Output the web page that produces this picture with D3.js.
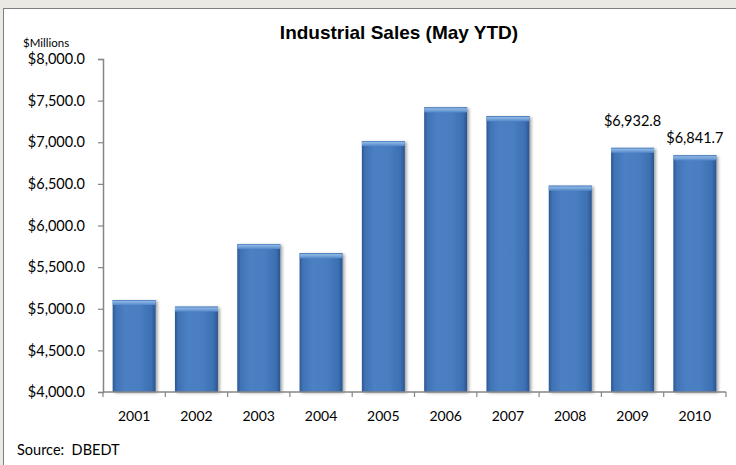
<!DOCTYPE html>
<html>
<head>
<meta charset="utf-8">
<script src="https://cdn.jsdelivr.net/npm/d3@7"></script>
<style>
  html, body { margin: 0; padding: 0; background: #ebe9e4; }
  svg { display: block; }
</style>
</head>
<body>
<svg id="chart" width="736" height="465"></svg>
<script>
// Industrial sales, May year-to-date, $ millions
const years = ["2001", "2002", "2003", "2004", "2005", "2006", "2007", "2008", "2009", "2010"];
const sales = [5105, 5025, 5778, 5666, 7015, 7418, 7312, 6478, 6932.8, 6841.7];
const yTicks = [4000, 4500, 5000, 5500, 6000, 6500, 7000, 7500, 8000];
const labelledYears = ["2009", "2010"];

const W = 736, H = 465;
const svg = d3.select("#chart");

// panel background and frame
svg.append("rect").attr("x", 0).attr("y", 0).attr("width", W).attr("height", H).attr("fill", "#ebe9e4");
svg.append("rect").attr("x", 3.5).attr("y", 8.5).attr("width", W).attr("height", H).attr("fill", "#ffffff")
  .attr("stroke", "#7f7f7f").attr("stroke-width", 1);

const plot = { left: 103, right: 726, top: 59, bottom: 392 };

const x = d3.scaleBand().domain(years).range([plot.left, plot.right]).paddingInner(0).paddingOuter(0);
const y = d3.scaleLinear().domain([4000, 8000]).range([plot.bottom, plot.top]);
const barW = x.bandwidth() * 0.69;

const defs = svg.append("defs");
const bodyGrad = defs.append("linearGradient").attr("id", "barBody").attr("x1", "0").attr("x2", "1").attr("y1", "0").attr("y2", "0");
[["0%", "#2c5893"], ["8%", "#3f73b5"], ["30%", "#4b80c3"], ["60%", "#4a7fc2"], ["90%", "#3c70b2"], ["100%", "#2a548e"]]
  .forEach(([o, c]) => bodyGrad.append("stop").attr("offset", o).attr("stop-color", c));
const capGrad = defs.append("linearGradient").attr("id", "barTop").attr("x1", "0").attr("x2", "0").attr("y1", "0").attr("y2", "1");
[["0%", "#3a6db0"], ["25%", "#8db6e6"], ["100%", "#5488c8"]]
  .forEach(([o, c]) => capGrad.append("stop").attr("offset", o).attr("stop-color", c));
const shadow = defs.append("filter").attr("id", "shadow").attr("x", "-20%").attr("y", "-20%").attr("width", "150%").attr("height", "150%");
shadow.append("feDropShadow").attr("dx", 2).attr("dy", 1).attr("stdDeviation", 1.6)
  .attr("flood-color", "#000").attr("flood-opacity", 0.35);

const data = years.map((yr, i) => ({ year: yr, value: sales[i] }));

// bars
const bars = svg.append("g").selectAll("g").data(data).join("g");
bars.append("rect")
  .attr("x", d => x(d.year) + (x.bandwidth() - barW) / 2)
  .attr("y", d => y(d.value))
  .attr("width", barW)
  .attr("height", d => y(4000) - y(d.value))
  .attr("fill", "url(#barBody)")
  .attr("filter", "url(#shadow)");
bars.append("rect")
  .attr("x", d => x(d.year) + (x.bandwidth() - barW) / 2)
  .attr("y", d => y(d.value))
  .attr("width", barW)
  .attr("height", 5)
  .attr("fill", "url(#barTop)");

// y axis
const yAxis = d3.axisLeft(y).tickValues(yTicks).tickSize(5).tickPadding(13).tickFormat(d3.format("$,.1f"));
const gy = svg.append("g").attr("transform", `translate(${plot.left},0)`).call(yAxis);
gy.select(".domain").attr("stroke", "#868686").attr("stroke-width", 1.5);
gy.selectAll(".tick line").attr("stroke", "#868686").attr("stroke-width", 1.2);
gy.selectAll(".tick text").attr("fill", "#000").style("font-family", "Lato, 'Open Sans', sans-serif").style("font-size", "14.5px");

// x axis: ticks at category boundaries, labels at centres
const gx = svg.append("g").attr("transform", `translate(0,${plot.bottom})`);
gx.append("line").attr("x1", plot.left).attr("x2", plot.right).attr("stroke", "#868686").attr("stroke-width", 1.5);
const bounds = years.map(yr => x(yr)).concat([plot.right]);
gx.selectAll("line.tk").data(bounds).join("line").attr("class", "tk")
  .attr("x1", d => d).attr("x2", d => d).attr("y1", 0).attr("y2", 5)
  .attr("stroke", "#868686").attr("stroke-width", 1.2);
gx.selectAll("text").data(years).join("text")
  .attr("x", d => x(d) + x.bandwidth() / 2)
  .attr("y", 28.5)
  .attr("text-anchor", "middle")
  .style("font-family", "Lato, 'Open Sans', sans-serif").style("font-size", "14px")
  .attr("fill", "#000")
  .text(d => d);

// value labels
const labelGap = { "2009": 22, "2010": 12 };
svg.append("g").selectAll("text").data(data.filter(d => labelledYears.includes(d.year))).join("text")
  .attr("x", d => x(d.year) + x.bandwidth() / 2)
  .attr("y", d => y(d.value) - labelGap[d.year])
  .attr("text-anchor", "middle")
  .style("font-family", "Lato, 'Open Sans', sans-serif").style("font-size", "14.5px")
  .attr("fill", "#000")
  .text(d => d3.format("$,.1f")(d.value));

// titles and notes
svg.append("text").attr("x", 399).attr("y", 38.5).attr("text-anchor", "middle")
  .style("font-family", "'Liberation Sans', Arial, sans-serif").style("font-weight", "bold").style("font-size", "19px")
  .attr("fill", "#000").text("Industrial Sales (May YTD)");
svg.append("text").attr("x", 23).attr("y", 46.5)
  .style("font-family", "Lato, 'Open Sans', sans-serif").style("font-size", "11.5px")
  .attr("fill", "#000").text("$Millions");
svg.append("text").attr("x", 17).attr("y", 455)
  .style("font-family", "Lato, 'Open Sans', sans-serif").style("font-size", "14.5px")
  .style("white-space", "pre").attr("xml:space", "preserve")
  .attr("fill", "#000").text("Source:  DBEDT");
</script>
</body>
</html>
